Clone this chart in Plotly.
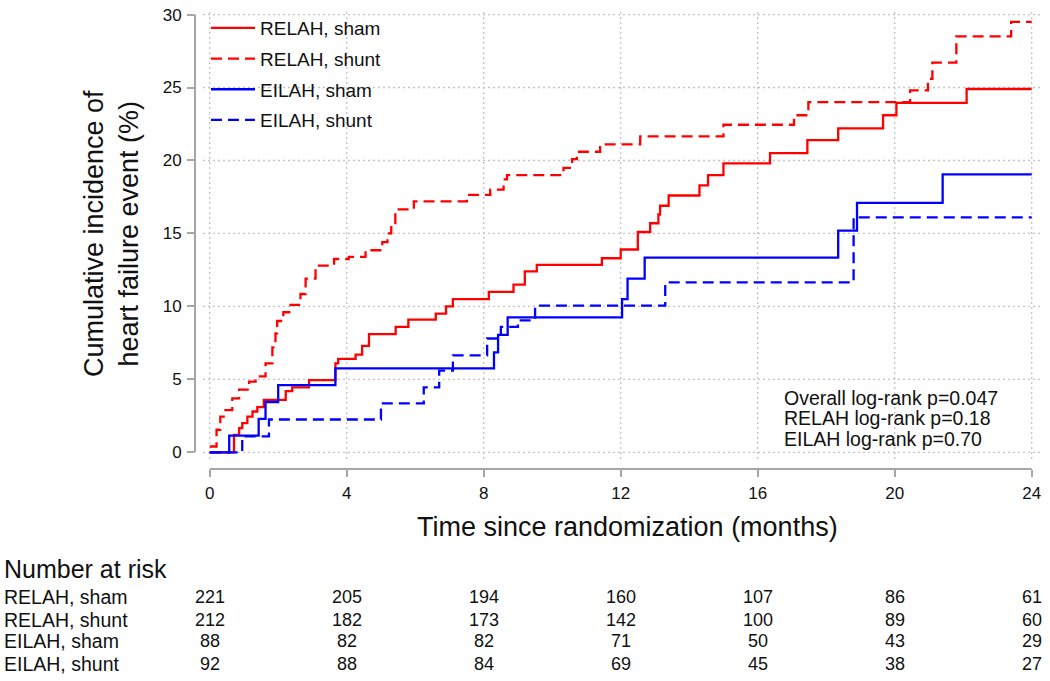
import plotly.graph_objects as go

# ---------------- data ----------------
x_ticks = [0, 4, 8, 12, 16, 20, 24]
y_ticks = [0, 5, 10, 15, 20, 25, 30]

relah_sham_t = [0, 0.71, 0.86, 0.95, 1.10, 1.25, 1.39, 1.58, 2.22, 2.41, 2.90, 3.67, 3.75,
                4.26, 4.45, 4.65, 5.43, 5.80, 6.60, 6.90, 7.10, 8.15, 8.87, 9.20, 9.55,
                11.45, 12.00, 12.50, 12.86, 13.10, 13.15, 13.40, 14.30, 14.55, 15.00,
                16.36, 17.45, 18.35, 19.66, 20.05, 22.10, 24.0]
relah_sham_v = [0, 1.2, 1.66, 2.0, 2.45, 2.8, 3.1, 3.6, 4.2, 4.45, 4.95, 6.1, 6.4,
                6.7, 7.3, 8.1, 8.6, 9.1, 9.5, 10.0, 10.5, 11.0, 11.5, 12.4, 12.85,
                13.3, 13.9, 15.1, 15.7, 16.3, 16.9, 17.6, 18.3, 19.0, 19.8,
                20.5, 21.4, 22.2, 23.1, 23.95, 24.9, 24.9]

relah_shunt_t = [0, 0.20, 0.31, 0.46, 0.66, 0.86, 1.15, 1.34, 1.63, 1.83, 1.92, 1.97, 2.15,
                 2.36, 2.65, 2.80, 3.09, 3.63, 4.06, 4.55, 5.04, 5.19, 5.30, 5.42, 5.96,
                 7.51, 8.19, 8.58, 8.68, 10.33, 10.58, 10.72, 11.40, 12.57, 15.00, 17.06,
                 17.48, 20.45, 20.97, 21.10, 21.80, 23.40, 24.0]
relah_shunt_v = [0.4, 1.55, 2.45, 2.9, 3.7, 4.3, 4.85, 5.2, 6.1, 7.2, 8.15, 9.0, 9.6,
                 10.1, 10.85, 11.9, 12.8, 13.25, 13.4, 13.85, 14.4, 15.0, 15.6, 16.65, 17.2,
                 17.65, 18.0, 18.7, 19.0, 19.5, 20.1, 20.6, 21.1, 21.65, 22.45, 23.1,
                 24.0, 24.8, 25.6, 26.7, 28.5, 29.5, 29.5]

eilah_sham_t = [0, 0.57, 1.43, 1.63, 2.00, 3.67, 8.30, 8.42, 8.70, 12.04, 12.20, 12.70,
                18.35, 18.90, 21.40, 24.0]
eilah_sham_v = [0, 1.14, 2.3, 3.45, 4.6, 5.75, 6.85, 8.05, 9.25, 10.5, 11.9, 13.35,
                15.2, 17.1, 19.05, 19.05]

eilah_shunt_t = [0, 0.95, 1.73, 5.00, 6.25, 6.70, 7.10, 8.10, 8.50, 9.00, 9.50, 13.30, 18.80, 24.0]
eilah_shunt_v = [0, 1.1, 2.25, 3.35, 4.45, 5.6, 6.65, 7.8, 8.6, 9.05, 10.05, 11.65, 16.1, 16.1]

series_names = ["RELAH, sham", "RELAH, shunt", "EILAH, sham", "EILAH, shunt"]
risk_relah_sham = [221, 205, 194, 160, 107, 86, 61]
risk_relah_shunt = [212, 182, 173, 142, 100, 89, 60]
risk_eilah_sham = [88, 82, 82, 71, 50, 43, 29]
risk_eilah_shunt = [92, 88, 84, 69, 45, 38, 27]

pvalue_lines = ["Overall log-rank p=0.047", "RELAH log-rank p=0.18", "EILAH log-rank p=0.70"]

# ---------------- layout geometry (screen pixels) ----------------
W_FIG, H_FIG = 1050, 681
PL, PR, PT, PB = 195, 1040, 6, 469          # plot area on screen
X0, SX = 209.7, (1031.7 - 209.7) / 24       # screen px of month 0, px per month
Y0, SY = 452.2, 14.72                       # screen px of 0 %, px per %


def px2x(px):
    return (px - PL) / (PR - PL)


def py2y(py):
    return (PB - py) / (PB - PT)


x_range = [(PL - X0) / SX, (PR - X0) / SX]
y_range = [(Y0 - PB) / SY, (Y0 - PT) / SY]

FONT = "Liberation Sans, Arial, Helvetica, sans-serif"
RED = "#ff0000"
BLUE = "#0000ff"
AXIS_GREY = "#a6a6a6"
GRID_GREY = "#c4c4c4"
TXT = "#111111"

fig = go.Figure()
styles = [(RED, "solid"), (RED, "11px,6px"), (BLUE, "solid"), (BLUE, "11px,6px")]
data = [(relah_sham_t, relah_sham_v), (relah_shunt_t, relah_shunt_v),
        (eilah_sham_t, eilah_sham_v), (eilah_shunt_t, eilah_shunt_v)]
for name, (t, v), (col, dash) in zip(series_names, data, styles):
    fig.add_trace(go.Scatter(x=t, y=v, mode="lines", name=name, legendgroup=name,
                             line=dict(color=col, width=2.3, dash=dash, shape="hv")))

axis_common = dict(showgrid=False, zeroline=False, showline=False, ticks="outside",
                   ticklen=7, tickwidth=2, tickcolor=AXIS_GREY, ticklabeloverflow="allow",
                   tickfont=dict(size=17, family=FONT, color=TXT))

fig.update_layout(
    width=W_FIG, height=H_FIG,
    margin=dict(l=PL, r=W_FIG - PR, t=PT, b=H_FIG - PB, pad=0),
    paper_bgcolor="white", plot_bgcolor="white",
    font=dict(family=FONT, color=TXT),
    xaxis=dict(range=x_range, tickvals=x_ticks, ticklabelstandoff=2, **axis_common),
    yaxis=dict(range=y_range, tickvals=y_ticks, ticklabelstandoff=2, **axis_common),
    legend=dict(x=px2x(206), y=py2y(5), xanchor="left", yanchor="top",
                bgcolor="rgba(0,0,0,0)", font=dict(size=19, family=FONT, color=TXT),
                itemwidth=44, tracegroupgap=3),
    showlegend=True,
)

shapes = []
# dotted grid
for yt in y_ticks:
    shapes.append(dict(type="line", xref="paper", yref="y", x0=px2x(203), x1=1, y0=yt, y1=yt,
                       line=dict(color=GRID_GREY, width=1.3, dash="2px,3px"), layer="below"))
for xt in x_ticks:
    shapes.append(dict(type="line", xref="x", yref="paper", x0=xt, x1=xt, y0=py2y(459), y1=py2y(8),
                       line=dict(color=GRID_GREY, width=1.3, dash="2px,3px"), layer="below"))
# axis lines (detached, only over the tick span)
shapes.append(dict(type="line", xref="x", yref="paper", x0=x_ticks[0], x1=x_ticks[-1],
                   y0=0, y1=0, line=dict(color=AXIS_GREY, width=2)))
shapes.append(dict(type="line", xref="paper", yref="y", x0=0, x1=0,
                   y0=y_ticks[0], y1=y_ticks[-1], line=dict(color=AXIS_GREY, width=2)))
fig.update_layout(shapes=shapes)

ann = []
# axis titles
ann.append(dict(text="Time since randomization (months)", xref="paper", yref="paper",
                x=px2x(627), y=py2y(528), xanchor="center", yanchor="middle", showarrow=False,
                font=dict(size=27, family=FONT, color=TXT)))
ann.append(dict(text="Cumulative incidence of<br>heart failure event (%)", xref="paper",
                yref="paper", x=px2x(111), y=py2y(232), xanchor="center", yanchor="middle",
                showarrow=False, textangle=-90,
                font=dict(size=27, family=FONT, color=TXT)))
# p-values
for i, line in enumerate(pvalue_lines):
    ann.append(dict(text=line, xref="paper", yref="paper", x=px2x(782), y=py2y(397 + 21 * i),
                    xanchor="left", yanchor="middle", showarrow=False,
                    font=dict(size=19.5, family=FONT, color=TXT)))
# risk table
ann.append(dict(text="Number at risk", xref="paper", yref="paper", x=px2x(2), y=py2y(570),
                xanchor="left", yanchor="middle", showarrow=False,
                font=dict(size=25, family=FONT, color=TXT)))
rows = [risk_relah_sham, risk_relah_shunt, risk_eilah_sham, risk_eilah_shunt]
row_py = [598, 621, 643, 666]
for name, vals, py in zip(series_names, rows, row_py):
    ann.append(dict(text=name, xref="paper", yref="paper", x=px2x(2), y=py2y(py),
                    xanchor="left", yanchor="middle", showarrow=False,
                    font=dict(size=19.5, family=FONT, color=TXT)))
    for xt, val in zip(x_ticks, vals):
        ann.append(dict(text=str(val), xref="x", yref="paper", x=xt, y=py2y(py),
                        xanchor="center", yanchor="middle", showarrow=False,
                        font=dict(size=18, family=FONT, color=TXT)))
fig.update_layout(annotations=ann)

fig.write_html("out.html", config={"displayModeBar": False},
               post_script="document.body.style.margin='0';")
